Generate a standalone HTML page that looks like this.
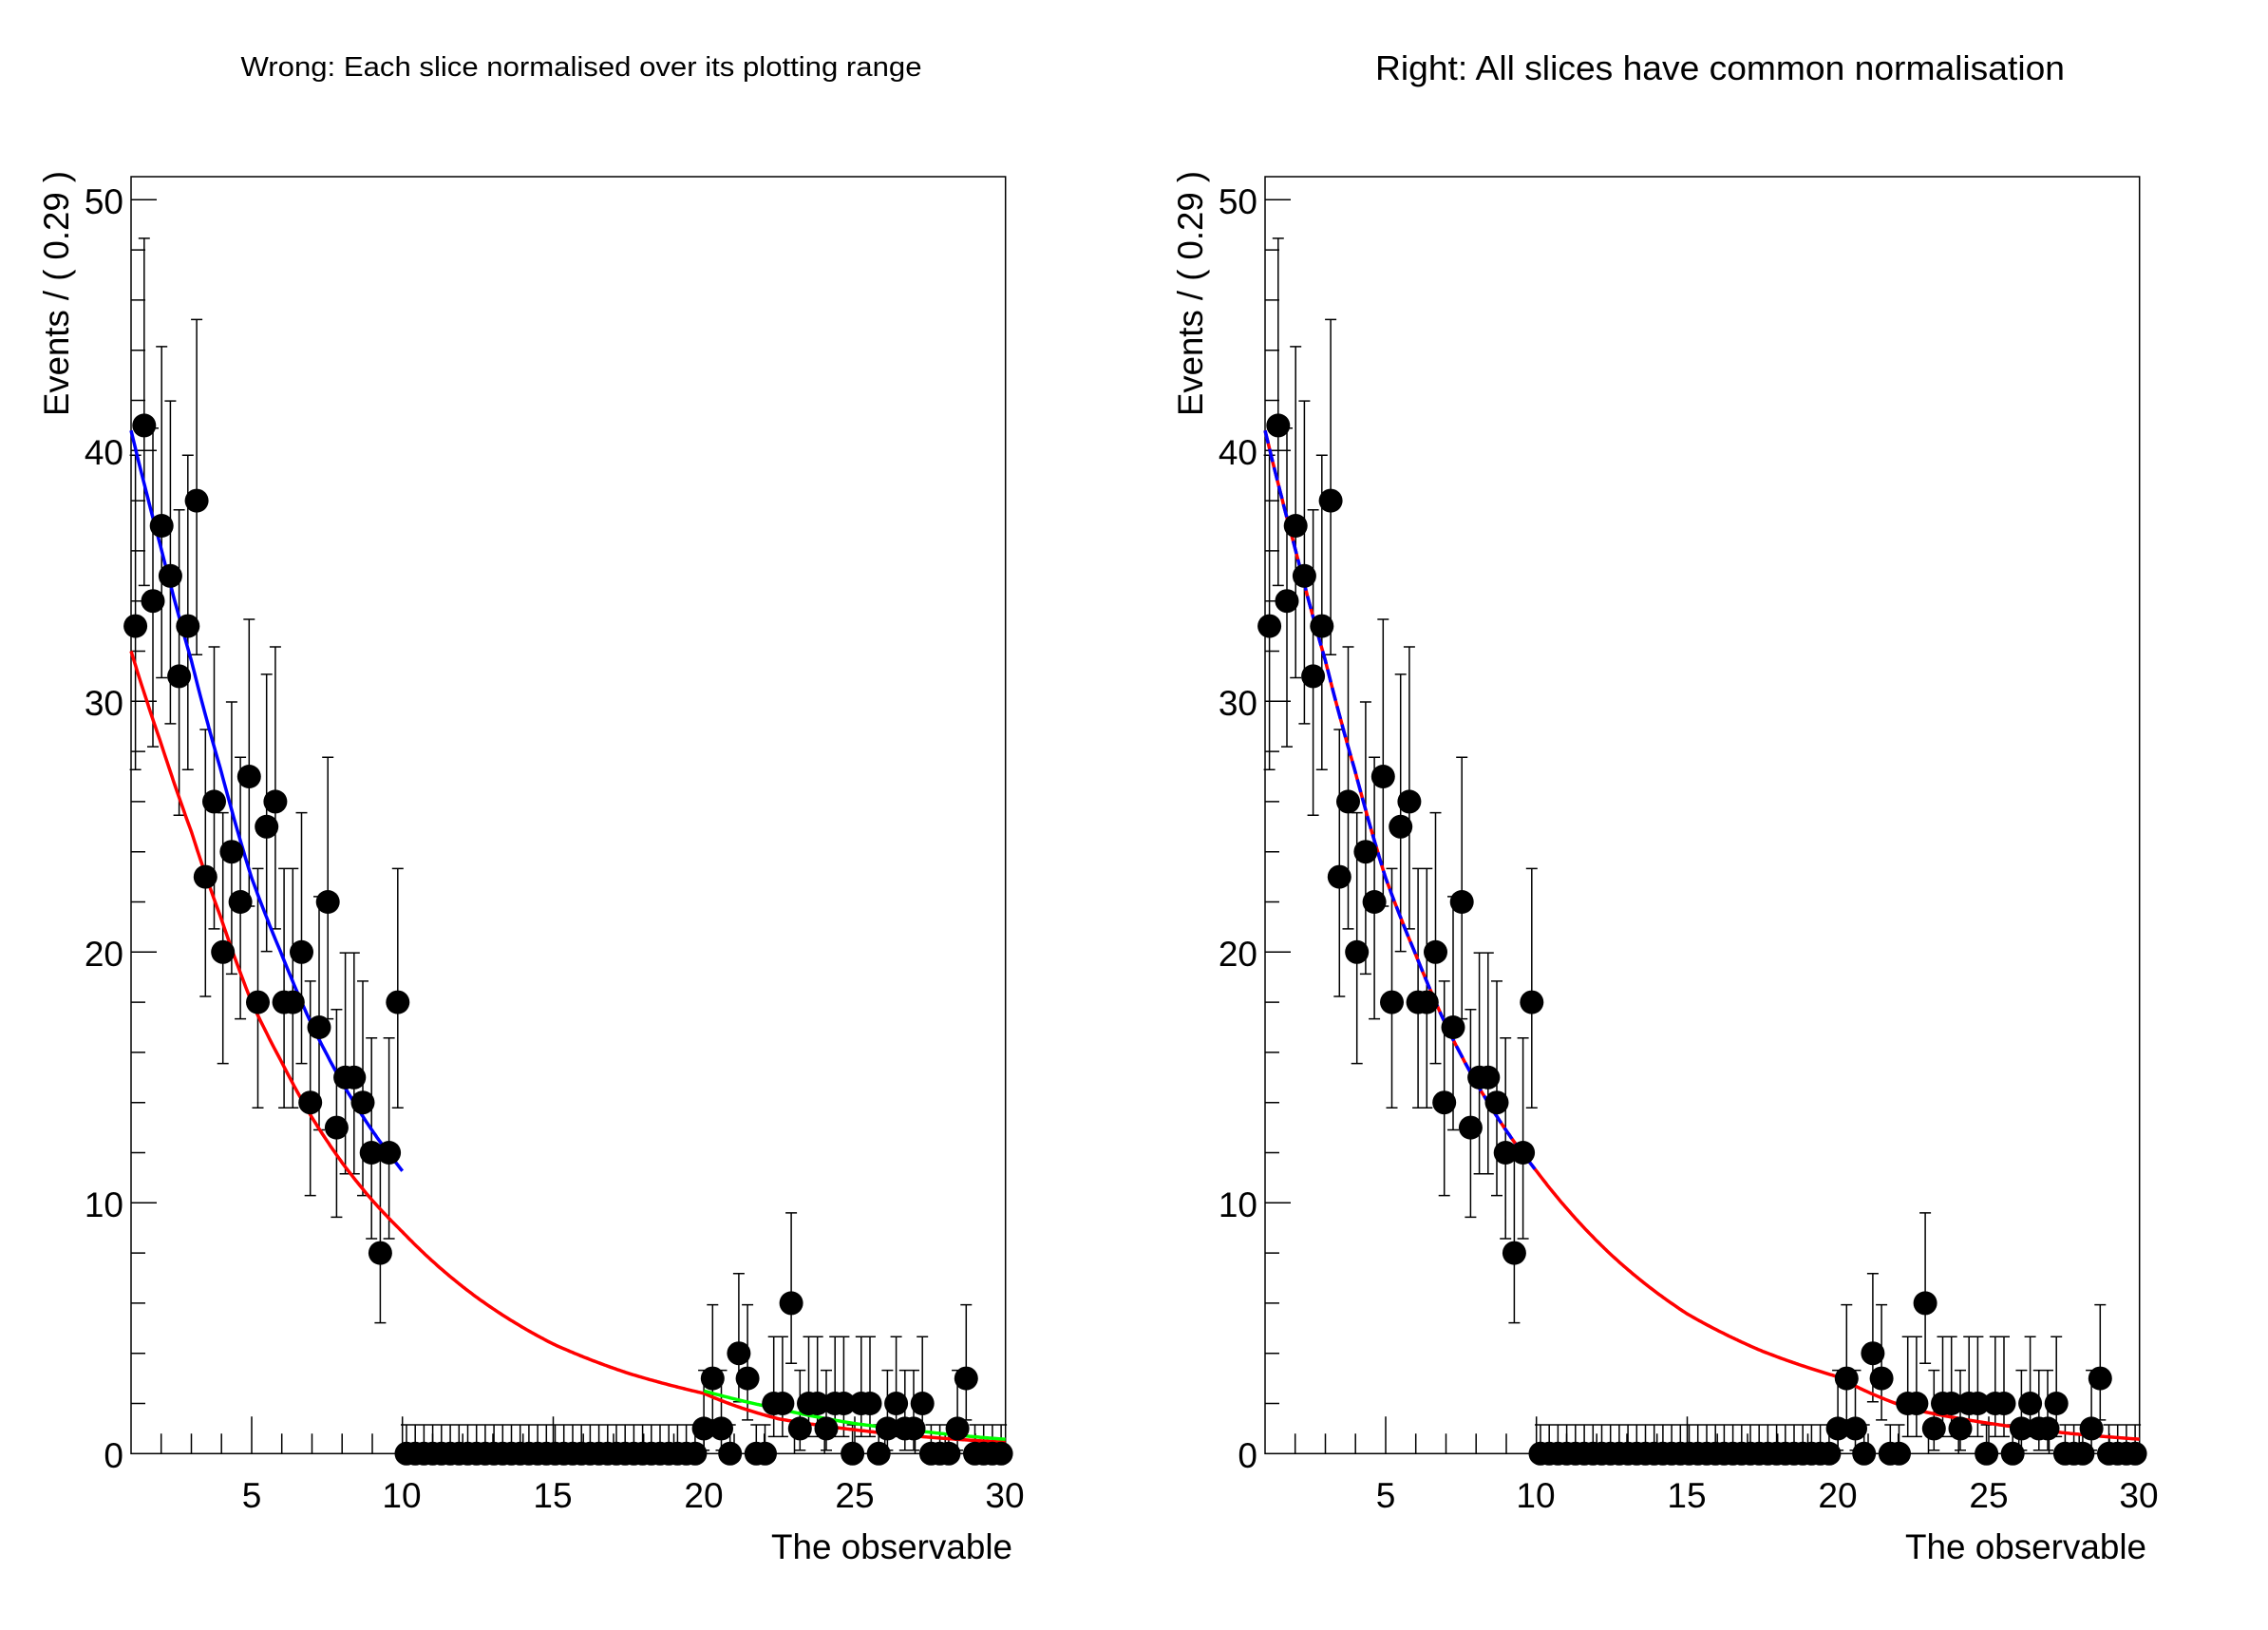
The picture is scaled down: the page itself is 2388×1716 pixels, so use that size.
<!DOCTYPE html>
<html><head><meta charset="utf-8">
<style>
html,body{margin:0;padding:0;background:#fff;}
svg{display:block;}
text{font-family:"Liberation Sans",sans-serif;fill:#000;}
</style></head>
<body>
<svg id="s" xmlns="http://www.w3.org/2000/svg" width="2388" height="1716" viewBox="0 0 2388 1716">
<rect width="2388" height="1716" fill="#fff"/>
<text x="612" y="80" font-size="29" text-anchor="middle" textLength="717" lengthAdjust="spacingAndGlyphs">Wrong: Each slice normalised over its plotting range</text>
<text x="1811" y="84" font-size="36" text-anchor="middle" textLength="726" lengthAdjust="spacingAndGlyphs">Right: All slices have common normalisation</text>
<g id="p0"></g>
<g id="p1" transform="translate(1194,0)"></g>
<g font-size="37">
<text x="130" y="1545" text-anchor="end">0</text>
<text x="130" y="1281" text-anchor="end">10</text>
<text x="130" y="1017" text-anchor="end">20</text>
<text x="130" y="753" text-anchor="end">30</text>
<text x="130" y="489" text-anchor="end">40</text>
<text x="130" y="225" text-anchor="end">50</text>
<text x="265" y="1587" text-anchor="middle">5</text>
<text x="423" y="1587" text-anchor="middle">10</text>
<text x="582" y="1587" text-anchor="middle">15</text>
<text x="741" y="1587" text-anchor="middle">20</text>
<text x="900" y="1587" text-anchor="middle">25</text>
<text x="1058" y="1587" text-anchor="middle">30</text>
<text x="1066" y="1641" text-anchor="end" font-size="37" textLength="254" lengthAdjust="spacingAndGlyphs">The observable</text>
<text transform="translate(72,180) rotate(-90)" text-anchor="end" font-size="37" textLength="258" lengthAdjust="spacingAndGlyphs">Events / ( 0.29 )</text>
</g>
<g font-size="37" transform="translate(1194,0)">
<text x="130" y="1545" text-anchor="end">0</text>
<text x="130" y="1281" text-anchor="end">10</text>
<text x="130" y="1017" text-anchor="end">20</text>
<text x="130" y="753" text-anchor="end">30</text>
<text x="130" y="489" text-anchor="end">40</text>
<text x="130" y="225" text-anchor="end">50</text>
<text x="265" y="1587" text-anchor="middle">5</text>
<text x="423" y="1587" text-anchor="middle">10</text>
<text x="582" y="1587" text-anchor="middle">15</text>
<text x="741" y="1587" text-anchor="middle">20</text>
<text x="900" y="1587" text-anchor="middle">25</text>
<text x="1058" y="1587" text-anchor="middle">30</text>
<text x="1066" y="1641" text-anchor="end" font-size="37" textLength="254" lengthAdjust="spacingAndGlyphs">The observable</text>
<text transform="translate(72,180) rotate(-90)" text-anchor="end" font-size="37" textLength="258" lengthAdjust="spacingAndGlyphs">Events / ( 0.29 )</text>
</g>
</svg>
<script>
(function(){
var NS="http://www.w3.org/2000/svg";
var L=138,R=1058.7,T=186,Y0=1530.3,U=(R-L)/29,VY=26.4;
function X(x){return L+(x-1)*U;}
function Y(y){return Y0-y*VY;}
var first=[33,41,34,37,35,31,33,38,23,26,20,24,22,27,18,25,26,18,18,20,14,17,22,13,15,15,14,12,8,12,18];
var d=[];for(var i=0;i<100;i++)d.push(0);
for(i=0;i<first.length;i++)d[i]=first[i];
var tail={65:1,66:3,67:1,68:0,69:4,70:3,71:0,72:0,73:2,74:2,75:6,76:1,77:2,78:2,79:1,80:2,81:2,82:0,83:2,84:2,85:0,86:1,87:2,88:1,89:1,90:2,91:0,92:0,93:0,94:1,95:3};
for(var k in tail)d[+k]=tail[k];
var rp=[[1,32],[2,28.3],[3,24.8],[4,21.3],[5,18],[6,15.6],[7,13.4],[8,11.6],[9,10.1],[10,8.84],[12.5,6.2],[15,4.37],[17.5,3.2],[20,2.4],[22.5,1.38],[25,0.95],[27.5,0.65],[30,0.45]];
var gp=[[20,2.5],[22.5,1.78],[25,1.2],[27.5,0.85],[30,0.57]];
function interp(p,x){for(var j=0;j<p.length-1;j++){if(x<=p[j+1][0]){var t=(x-p[j][0])/(p[j+1][0]-p[j][0]);return Math.exp(Math.log(p[j][1])*(1-t)+Math.log(p[j+1][1])*t);}}return p[p.length-1][1];}
function path(f,a,b){var s="";for(var x=a;x<=b+1e-9;x+=0.05){s+=(s?"L":"M")+X(x).toFixed(1)+","+Y(f(x)).toFixed(1);}return s;}
function el(g,n,at){var e=document.createElementNS(NS,n);for(var a in at)e.setAttribute(a,at[a]);g.appendChild(e);return e;}
function draw(g,right){
  var s="";
  el(g,"rect",{x:L,y:T,width:R-L,height:Y0-T,fill:"none",stroke:"#000","stroke-width":1.5});
  for(var t=2;t<=50;t+=2){var len=(t%10==0)?27:15;s+="M"+L+","+Y(t).toFixed(1)+"h"+len;}
  for(var x=1;x<=30;x++){if(x==1||x==30)continue;var len2=(x%5==0)?39:21;s+="M"+X(x).toFixed(1)+","+Y0+"v-"+len2;}
  el(g,"path",{d:s,stroke:"#000","stroke-width":1.5,fill:"none"});
  var e="";
  for(var i=0;i<100;i++){var n=d[i],cx=X(1.145+0.29*i),hi,lo;
    if(n==0){hi=1.148;lo=0;}else{hi=n+1+Math.sqrt(n+0.75);lo=n-Math.sqrt(n-0.25);}
    e+="M"+cx.toFixed(1)+","+Y(lo).toFixed(1)+"V"+Y(hi).toFixed(1);
    e+="M"+(cx-6).toFixed(1)+","+Y(hi).toFixed(1)+"h12";
    if(n>0)e+="M"+(cx-6).toFixed(1)+","+Y(lo).toFixed(1)+"h12";
  }
  el(g,"path",{d:e,stroke:"#000","stroke-width":1.5,fill:"none"});
  var red=function(x){return interp(rp,x)*(right?1.275:1);};
  var blue=function(x){return interp(rp,x)*1.275;};
  var green=function(x){return interp(gp,x);};
  if(!right){
    el(g,"path",{d:path(red,1,30),stroke:"#ff0000","stroke-width":3.5,fill:"none"});
    el(g,"path",{d:path(blue,1,10),stroke:"#0000ff","stroke-width":3.5,fill:"none"});
    el(g,"path",{d:path(green,20,30),stroke:"#00ff00","stroke-width":3.5,fill:"none"});
  }else{
    el(g,"path",{d:path(red,1,30),stroke:"#ff0000","stroke-width":3.5,fill:"none"});
    el(g,"path",{d:path(blue,1,10),stroke:"#0000ff","stroke-width":3.5,fill:"none","stroke-dasharray":"14 6"});
  }
  for(i=0;i<100;i++){el(g,"circle",{cx:X(1.145+0.29*i).toFixed(1),cy:Y(d[i]).toFixed(1),r:12.5,fill:"#000"});}
}
draw(document.getElementById("p0"),false);
draw(document.getElementById("p1"),true);
})();
</script>
</body></html>
